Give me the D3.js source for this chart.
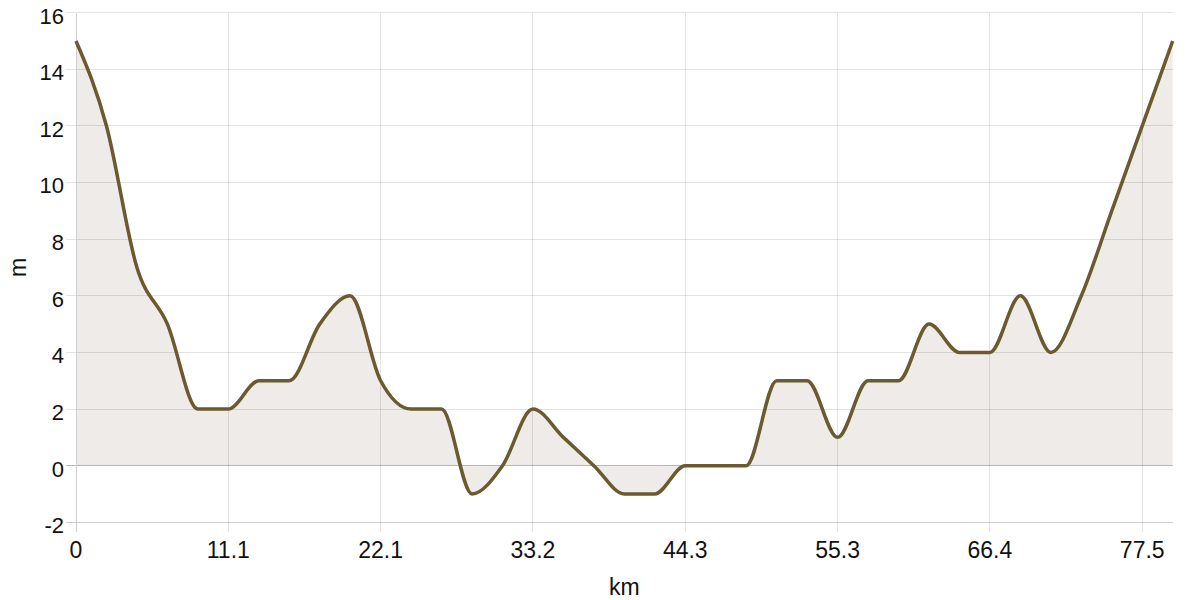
<!DOCTYPE html>
<html><head><meta charset="utf-8">
<script src="https://cdn.jsdelivr.net/npm/d3@7"></script>
<style>body{margin:0;background:#fff;} text{font-family:"Liberation Sans",Arial,Helvetica,sans-serif;}</style>
</head><body><svg id="c" width="1200" height="600"></svg>
<script>
const stepKm = 2.2136;
const elevations = [15,12,7,5,2,2,3,3,5,6,3,2,2,-1,0,2,1,0,-1,-1,0,0,0,3,3,1,3,3,5,4,4,6,4,6,9,12,15];
const yTicks = [-2,0,2,4,6,8,10,12,14,16];
const xTickIndex = [0,5,10,15,20,25,30,35];
const xTickLabels = ["0","11.1","22.1","33.2","44.3","55.3","66.4","77.5"];
const xLabel = "km", yLabel = "m";

const data = elevations.map((v,i)=>({km:i*stepKm, v}));
const svg = d3.select("#c");
const L=76, R=1172.7, T=12.7, B=522.3;
const x = d3.scaleLinear().domain([0,(elevations.length-1)*stepKm]).range([L,R]);
const y = d3.scaleLinear().domain([-2,16]).range([B,T]);

const area = d3.area().x(d=>x(d.km)).y0(y(0)).y1(d=>y(d.v)).curve(d3.curveMonotoneX);
const line = d3.line().x(d=>x(d.km)).y(d=>y(d.v)).curve(d3.curveMonotoneX);

svg.append("path").datum(data).attr("d",area).attr("fill","#efebe8");

const g = svg.append("g");
yTicks.forEach(t=>{
  g.append("line").attr("x1",L-10).attr("x2",R).attr("y1",y(t)).attr("y2",y(t))
   .attr("stroke", t===0 ? "#b8b8b8" : (t===-2 ? "#cfcfcf" : "rgba(0,0,0,0.11)")).attr("stroke-width",1).attr("shape-rendering","crispEdges");
  g.append("text").attr("x",L-12).attr("y",y(t)+3).attr("dy","0.36em").attr("text-anchor","end")
   .attr("font-size",22).attr("fill","#111").text(t);
});
xTickIndex.forEach((ti,k)=>{
  const xv = x(ti*stepKm);
  g.append("line").attr("x1",xv).attr("x2",xv).attr("y1",T).attr("y2",B+10)
   .attr("stroke", ti===0 ? "#cfcfcf" : "rgba(0,0,0,0.11)").attr("stroke-width",1).attr("shape-rendering","crispEdges");
  g.append("text").attr("x",xv).attr("y",558).attr("text-anchor","middle")
   .attr("font-size",23).attr("fill","#111").text(xTickLabels[k]);
});

svg.append("path").datum(data).attr("d",line).attr("fill","none")
  .attr("stroke","#6b5a2f").attr("stroke-width",3.5).attr("stroke-linejoin","round");

svg.append("text").attr("x",(L+R)/2).attr("y",595).attr("text-anchor","middle").attr("font-size",23).attr("fill","#111").text(xLabel);
svg.append("text").attr("transform","translate(26,"+((T+B)/2)+") rotate(-90)").attr("text-anchor","middle").attr("font-size",23).attr("fill","#111").text(yLabel);
</script></body></html>
